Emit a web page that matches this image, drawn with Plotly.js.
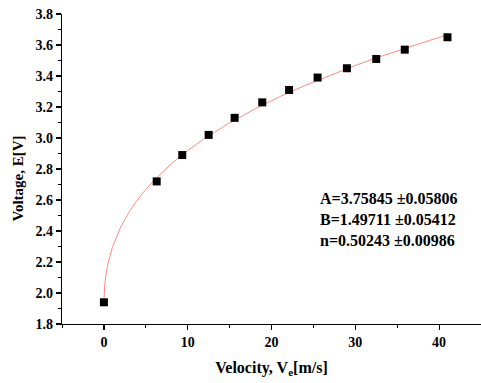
<!DOCTYPE html>
<html><head><meta charset="utf-8">
<script src="https://cdn.plot.ly/plotly-3.0.1.min.js"></script>
<style>html,body{margin:0;padding:0;background:#fff}#c{width:481px;height:383px}</style>
</head><body><div id="c"></div>
<script>
// Measured data points
const velocity = [0, 6.3, 9.35, 12.5, 15.6, 18.9, 22.1, 25.5, 29.0, 32.5, 35.9, 41.0];
const voltage  = [1.94, 2.72, 2.89, 3.02, 3.13, 3.23, 3.31, 3.39, 3.45, 3.51, 3.57, 3.65];
// Fitted curve, points
const fitV = [0, 0.1, 0.25, 0.5, 1, 2, 3, 4, 5, 6, 8, 10, 12, 15, 18, 21, 24, 27, 30, 33, 36, 39, 41];
const fitE = [1.939, 2.056, 2.122, 2.194, 2.293, 2.425, 2.522, 2.601, 2.668, 2.728, 2.831, 2.919, 2.996, 3.098, 3.187, 3.267, 3.339, 3.406, 3.468, 3.526, 3.581, 3.632, 3.665];
const fitText = ["A=3.75845 \u00B10.05806", "B=1.49711 \u00B10.05412", "n=0.50243 \u00B10.00986"];
const xTicks = [0, 10, 20, 30, 40];
const yTicks = [1.8, 2.0, 2.2, 2.4, 2.6, 2.8, 3.0, 3.2, 3.4, 3.6, 3.8];
const xTitle = "Velocity, V<sub>e</sub>[m/s]";
const yTitle = "Voltage, E[V]";

const font = {family: "Liberation Serif", color: "#000", weight: "bold"};
const traces = [
  {x: fitV, y: fitE, mode: "lines", line: {color: "#ff8a8a", width: 1}, hoverinfo: "skip"},
  {x: velocity, y: voltage, mode: "markers", marker: {symbol: "square", size: 8, color: "#000"}}
];
const annotations = fitText.map((t, i) => ({
  xref: "paper", yref: "paper", x: 0.61, y: 0.406 - i * 0.068, xanchor: "left", yanchor: "middle",
  text: t, showarrow: false, font: Object.assign({size: 16}, font)
}));
annotations.push({
  xref: "paper", yref: "paper", x: -0.106, y: 0.468, xanchor: "center", yanchor: "middle",
  textangle: -90, text: yTitle, showarrow: false, font: Object.assign({size: 15}, font)
});
const layout = {
  width: 481, height: 383,
  margin: {l: 62, r: 0, t: 14, b: 59},
  showlegend: false,
  plot_bgcolor: "#fff", paper_bgcolor: "#fff",
  font: Object.assign({size: 14}, font),
  xaxis: {
    range: [-5, 45], showline: true, linecolor: "#000", linewidth: 1.2,
    zeroline: false, showgrid: false, ticks: "outside", ticklen: 5, tickwidth: 1.2, tickcolor: "#000",
    tickvals: xTicks, ticktext: xTicks.map(v => String(v)),
    tickfont: Object.assign({size: 14}, font),
    minor: {dtick: 5, tick0: 0, ticks: "outside", ticklen: 3, tickwidth: 1, tickcolor: "#000", showgrid: false},
    title: {text: xTitle, font: Object.assign({size: 16}, font), standoff: 12}
  },
  yaxis: {
    range: [1.8, 3.8], showline: true, linecolor: "#000", linewidth: 1.2,
    zeroline: false, showgrid: false, ticks: "outside", ticklen: 5, tickwidth: 1.2, tickcolor: "#000",
    tickvals: yTicks, ticktext: yTicks.map(v => v.toFixed(1)),
    tickfont: Object.assign({size: 14}, font),
    minor: {dtick: 0.1, tick0: 1.8, ticks: "outside", ticklen: 3, tickwidth: 1, tickcolor: "#000", showgrid: false}
  },
  annotations: annotations
};
Plotly.newPlot("c", traces, layout, {staticPlot: true, displayModeBar: false});
</script></body></html>
